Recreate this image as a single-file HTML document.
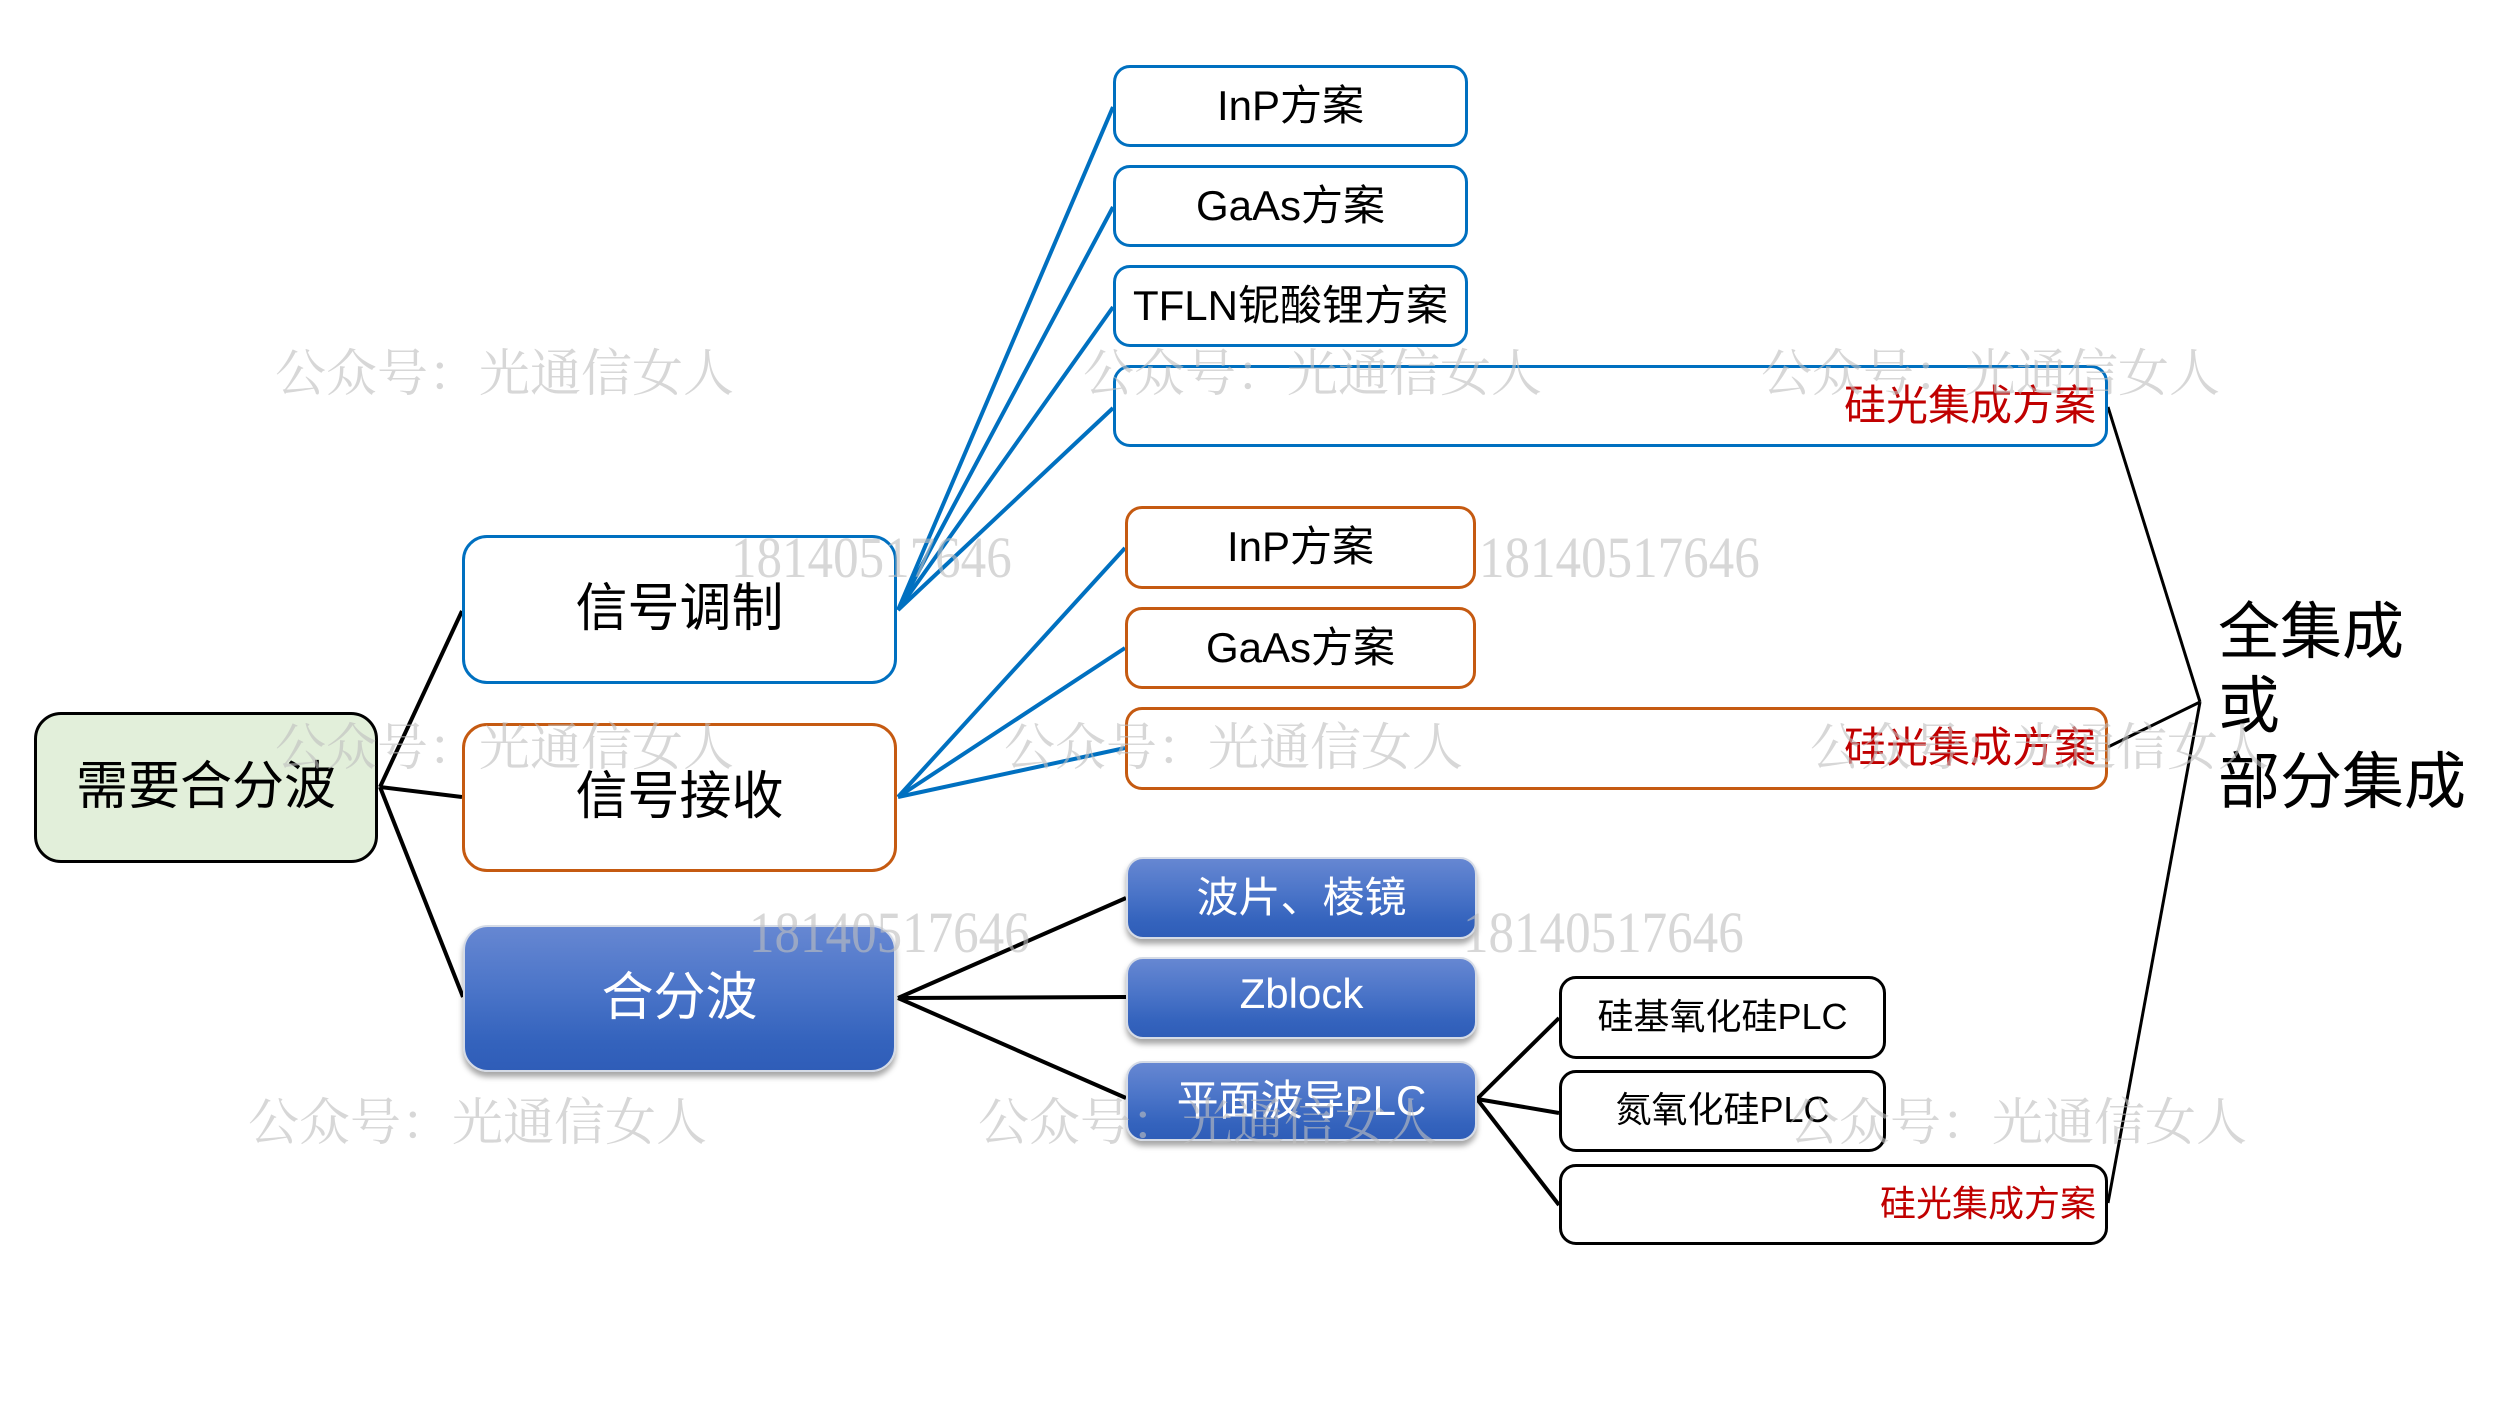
<!DOCTYPE html>
<html>
<head>
<meta charset="utf-8">
<style>
  html,body{margin:0;padding:0;background:#fff;}
  #c{position:relative;width:2500px;height:1406px;overflow:hidden;background:#fff;
     font-family:"Liberation Sans","Noto Sans CJK SC",sans-serif;color:#000;}
  .b{position:absolute;box-sizing:border-box;display:flex;align-items:center;justify-content:center;white-space:nowrap;padding-bottom:8px;}
  .big{padding-bottom:12px;}
  .bl{border:3px solid #0070c0;border-radius:17px;background:#fff;font-size:42px;}
  .or{border:3px solid #c55a11;border-radius:17px;background:#fff;font-size:42px;}
  .bk{border:3px solid #000;border-radius:17px;background:#fff;font-size:36px;}
  .gr{border:2px solid #d5dbe6;border-radius:17px;color:#fff;font-size:42px;
      background:linear-gradient(to bottom,#6687d2 0%,#4a74c8 45%,#3463bd 80%,#2f5db8 100%);
      box-shadow:0 5px 6px rgba(0,0,0,0.35);}
  .red{color:#c00000;justify-content:flex-end;}
  .wm{position:absolute;white-space:nowrap;font-family:"Liberation Serif","Noto Serif CJK SC",serif;
      color:rgba(190,190,190,0.62);font-size:51px;line-height:51px;}
  .num{position:absolute;white-space:nowrap;font-family:"Liberation Serif",serif;
      color:rgba(190,190,190,0.62);font-size:58px;line-height:58px;transform:scaleX(0.88);transform-origin:left center;}
  .rt{position:absolute;left:2218px;font-size:62px;line-height:75px;height:75px;white-space:nowrap;}
</style>
</head>
<body>
<div id="c">
<svg width="2500" height="1406" style="position:absolute;left:0;top:0">
  <g stroke="#000" stroke-width="4" fill="none">
    <line x1="380" y1="787" x2="462" y2="611"/>
    <line x1="380" y1="787" x2="462" y2="797"/>
    <line x1="380" y1="787" x2="463" y2="997"/>
    <line x1="898" y1="998" x2="1126" y2="898"/>
    <line x1="898" y1="998" x2="1126" y2="997"/>
    <line x1="898" y1="998" x2="1126" y2="1098"/>
    <line x1="1477" y1="1099" x2="1559" y2="1018"/>
    <line x1="1477" y1="1099" x2="1559" y2="1113"/>
    <line x1="1477" y1="1099" x2="1559" y2="1205"/>
  </g>
  <g stroke="#000" stroke-width="3" fill="none">
    <line x1="2108" y1="407" x2="2200" y2="702"/>
    <line x1="2108" y1="747" x2="2200" y2="702"/>
    <line x1="2108" y1="1203" x2="2200" y2="702"/>
  </g>
  <g stroke="#0070c0" stroke-width="4" fill="none">
    <line x1="898" y1="610" x2="1113" y2="107"/>
    <line x1="898" y1="610" x2="1113" y2="207"/>
    <line x1="898" y1="610" x2="1113" y2="307"/>
    <line x1="898" y1="610" x2="1113" y2="408"/>
    <line x1="898" y1="797" x2="1125" y2="548"/>
    <line x1="898" y1="797" x2="1125" y2="648"/>
    <line x1="898" y1="797" x2="1125" y2="748"/>
  </g>
</svg>

<!-- root -->
<div class="b big" style="left:34px;top:712px;width:344px;height:151px;border:3px solid #000;border-radius:27px;background:#e2efda;font-size:52px;">需要合分波</div>

<!-- level 1 -->
<div class="b bl big" style="left:462px;top:535px;width:435px;height:149px;border-radius:25px;font-size:52px;">信号调制</div>
<div class="b or big" style="left:462px;top:723px;width:435px;height:149px;border-radius:25px;font-size:52px;">信号接收</div>
<div class="b gr big" style="left:463px;top:925px;width:433px;height:147px;border-radius:25px;font-size:52px;">合分波</div>

<!-- modulation children -->
<div class="b bl" style="left:1113px;top:65px;width:355px;height:82px;">InP方案</div>
<div class="b bl" style="left:1113px;top:165px;width:355px;height:82px;">GaAs方案</div>
<div class="b bl" style="left:1113px;top:265px;width:355px;height:82px;">TFLN铌酸锂方案</div>
<div class="b bl red" style="left:1113px;top:365px;width:995px;height:82px;padding-right:9px;">硅光集成方案</div>

<!-- receiving children -->
<div class="b or" style="left:1125px;top:506px;width:351px;height:83px;">InP方案</div>
<div class="b or" style="left:1125px;top:607px;width:351px;height:82px;">GaAs方案</div>
<div class="b or red" style="left:1125px;top:707px;width:983px;height:83px;padding-right:9px;">硅光集成方案</div>

<!-- mux children -->
<div class="b gr" style="left:1126px;top:857px;width:351px;height:82px;">波片、棱镜</div>
<div class="b gr" style="left:1126px;top:957px;width:351px;height:82px;">Zblock</div>
<div class="b gr" style="left:1126px;top:1061px;width:351px;height:80px;">平面波导PLC</div>

<!-- PLC children -->
<div class="b bk" style="left:1559px;top:976px;width:327px;height:83px;">硅基氧化硅PLC</div>
<div class="b bk" style="left:1559px;top:1070px;width:327px;height:82px;">氮氧化硅PLC</div>
<div class="b bk red" style="left:1559px;top:1164px;width:549px;height:81px;padding-right:9px;">硅光集成方案</div>

<!-- right text -->
<div class="rt" style="top:595px;">全集成</div>
<div class="rt" style="top:669px;">或</div>
<div class="rt" style="top:745px;">部分集成</div>

<!-- watermarks -->
<div class="wm" style="left:275px;top:350px;">公众号：光通信女人</div>
<div class="wm" style="left:1083px;top:350px;">公众号：光通信女人</div>
<div class="wm" style="left:1761px;top:350px;">公众号：光通信女人</div>
<div class="wm" style="left:275px;top:724px;">公众号：光通信女人</div>
<div class="wm" style="left:1004px;top:724px;">公众号：光通信女人</div>
<div class="wm" style="left:1810px;top:724px;">公众号：光通信女人</div>
<div class="wm" style="left:248px;top:1099px;">公众号：光通信女人</div>
<div class="wm" style="left:978px;top:1099px;">公众号：光通信女人</div>
<div class="wm" style="left:1788px;top:1099px;">公众号：光通信女人</div>

<div class="num" style="left:731px;top:529px;">18140517646</div>
<div class="num" style="left:1479px;top:529px;">18140517646</div>
<div class="num" style="left:749px;top:904px;">18140517646</div>
<div class="num" style="left:1463px;top:904px;">18140517646</div>
</div>
</body>
</html>
